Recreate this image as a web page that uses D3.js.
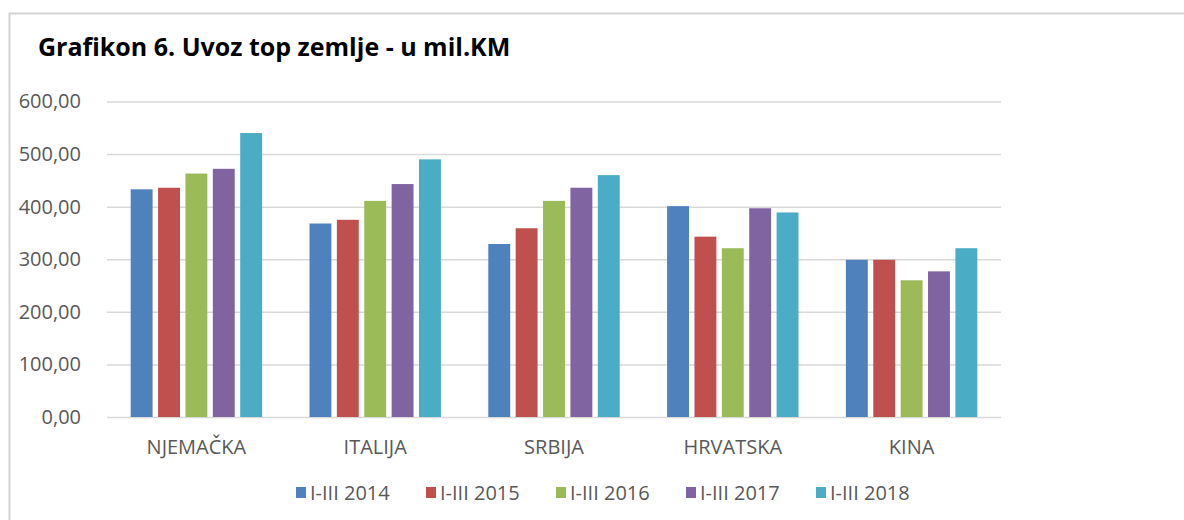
<!DOCTYPE html>
<html>
<head>
<meta charset="utf-8">
<script src="https://cdn.jsdelivr.net/npm/d3@7"></script>
<style>
  body { margin: 0; background: #fff; }
  svg text { font-family: "Open Sans", "Noto Sans", sans-serif; }
</style>
</head>
<body>
<div id="chart"></div>
<script>
const categories = ["NJEMAČKA", "ITALIJA", "SRBIJA", "HRVATSKA", "KINA"];
const seriesNames = ["I-III 2014", "I-III 2015", "I-III 2016", "I-III 2017", "I-III 2018"];
const v2014 = [433, 368, 329, 401, 299];
const v2015 = [436, 375, 359, 343, 299];
const v2016 = [463, 411, 411, 321, 260];
const v2017 = [472, 443, 436, 397, 277];
const v2018 = [540, 490, 460, 389, 321];
const yTicks = [0, 100, 200, 300, 400, 500, 600];
const colors = ["#4f81bd", "#c0504d", "#9bbb59", "#8064a2", "#4bacc6"];

const series = [v2014, v2015, v2016, v2017, v2018];
const width = 1184, height = 520;

const svg = d3.select("#chart").append("svg")
  .attr("width", width)
  .attr("height", height);

// chart frame (only top and left edges are visible in the crop)
svg.append("path")
  .attr("d", "M9.5,520 V13.5 H1184")
  .attr("fill", "none")
  .attr("stroke", "#d4d4d4")
  .attr("stroke-width", 2);

svg.append("text")
  .attr("x", 38)
  .attr("y", 56)
  .attr("font-size", 25)
  .attr("font-weight", "bold")
  .attr("fill", "#000")
  .text("Grafikon 6. Uvoz top zemlje - u mil.KM");

const x0 = d3.scaleBand()
  .domain(categories)
  .range([107, 1001])
  .paddingInner(0.265)
  .paddingOuter(0.1325);

const x1 = d3.scaleBand()
  .domain(seriesNames)
  .range([0, x0.bandwidth()])
  .paddingInner(0.2);

const y = d3.scaleLinear()
  .domain([0, 600])
  .range([417, 101.5]);

// gridlines
const grid = svg.append("g")
  .attr("transform", "translate(107,0)")
  .call(d3.axisLeft(y).tickValues(yTicks).tickSize(-894).tickFormat(""));
grid.select(".domain").remove();
grid.selectAll("line").attr("stroke", "#d9d9d9").attr("stroke-width", 1.5);

// y labels
const yAxis = svg.append("g")
  .attr("transform", "translate(84,0)")
  .call(d3.axisLeft(y).tickValues(yTicks).tickSize(0)
    .tickFormat(d => d3.format(".2f")(d).replace(".", ",")));
yAxis.select(".domain").remove();
yAxis.selectAll("text")
  .attr("font-size", 20)
  .attr("fill", "#595959")
  .attr("font-family", "Open Sans")
  .attr("dx", 0);

// bars
const groups = svg.append("g").selectAll("g")
  .data(categories)
  .join("g")
  .attr("transform", d => `translate(${x0(d)},0)`);

groups.selectAll("rect")
  .data((d, i) => series.map((s, j) => ({ name: seriesNames[j], value: s[i], c: colors[j] })))
  .join("rect")
  .attr("x", d => x1(d.name))
  .attr("y", d => y(d.value))
  .attr("width", x1.bandwidth())
  .attr("height", d => y(0) - y(d.value))
  .attr("fill", d => d.c);

// category labels
const xAxis = svg.append("g")
  .attr("transform", "translate(0,417)")
  .call(d3.axisBottom(x0).tickSize(0).tickPadding(0));
xAxis.select(".domain").remove();
xAxis.selectAll("text")
  .attr("y", 37)
  .attr("dy", 0)
  .attr("font-size", 20)
  .attr("fill", "#595959")
  .attr("font-family", "Open Sans");

// legend
const legendX = d3.scalePoint()
  .domain(seriesNames)
  .range([296, 816]);

const legend = svg.append("g").selectAll("g")
  .data(seriesNames)
  .join("g")
  .attr("transform", d => `translate(${legendX(d)},492)`);

legend.append("rect")
  .attr("x", 0)
  .attr("y", -5)
  .attr("width", 10)
  .attr("height", 11)
  .attr("fill", (d, i) => colors[i]);

legend.append("text")
  .attr("x", 14)
  .attr("y", 8)
  .attr("font-size", 20)
  .attr("fill", "#595959")
  .text(d => d);
</script>
</body>
</html>
